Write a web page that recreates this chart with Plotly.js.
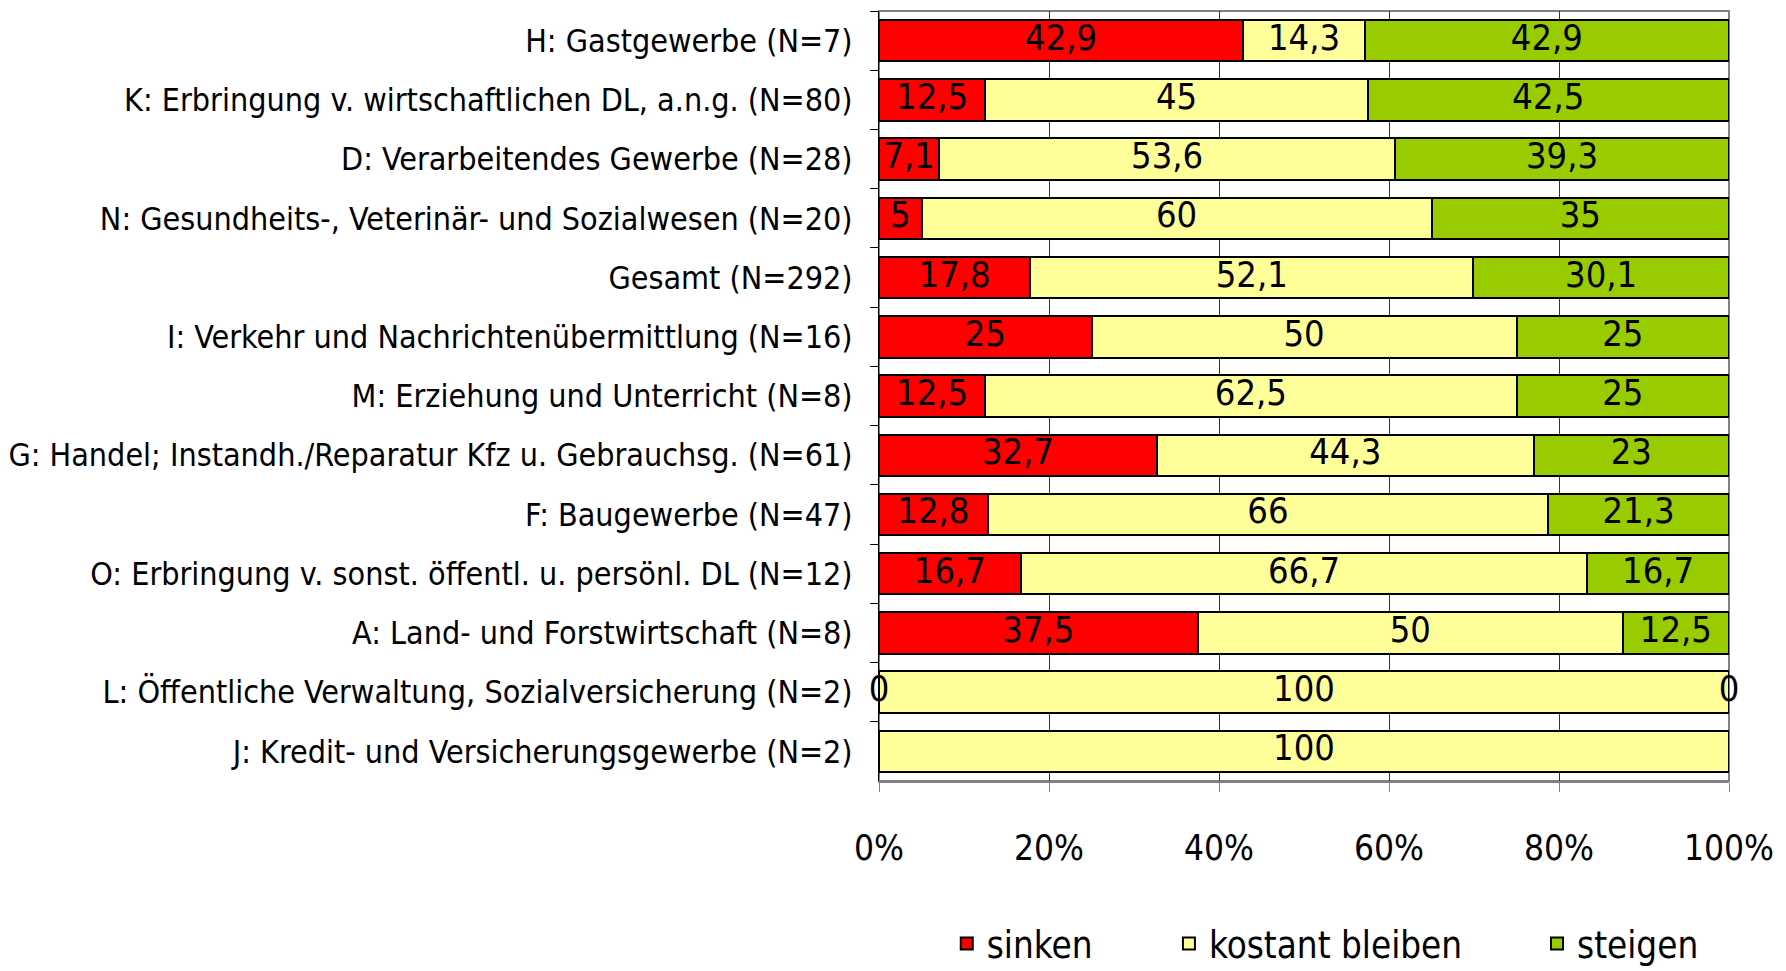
<!DOCTYPE html>
<html>
<head>
<meta charset="utf-8">
<script src="https://cdn.plot.ly/plotly-3.0.1.min.js"></script>
<style>html,body{margin:0;padding:0;background:#fff;}#chart{width:1786px;height:971px;}</style>
</head>
<body>
<div id="chart"></div>
<script>
const categories = [
  "H: Gastgewerbe (N=7)",
  "K: Erbringung v. wirtschaftlichen DL, a.n.g. (N=80)",
  "D: Verarbeitendes Gewerbe (N=28)",
  "N: Gesundheits-, Veterinär- und Sozialwesen (N=20)",
  "Gesamt (N=292)",
  "I: Verkehr und Nachrichtenübermittlung (N=16)",
  "M: Erziehung und Unterricht (N=8)",
  "G: Handel; Instandh./Reparatur Kfz u. Gebrauchsg. (N=61)",
  "F: Baugewerbe (N=47)",
  "O: Erbringung v. sonst. öffentl. u. persönl. DL (N=12)",
  "A: Land- und Forstwirtschaft (N=8)",
  "L: Öffentliche Verwaltung, Sozialversicherung (N=2)",
  "J: Kredit- und Versicherungsgewerbe (N=2)"
];
const sinken   = [42.9, 12.5, 7.1, 5, 17.8, 25, 12.5, 32.7, 12.8, 16.7, 37.5, 0, null];
const konstant = [14.3, 45, 53.6, 60, 52.1, 50, 62.5, 44.3, 66, 66.7, 50, 100, 100];
const steigen  = [42.9, 42.5, 39.3, 35, 30.1, 25, 25, 23, 21.3, 16.7, 12.5, 0, null];
const seriesNames = ["sinken", "kostant bleiben", "steigen"];
const tickVals = [0, 20, 40, 60, 80, 100];

const colors = ["#FF0000", "#FFFF99", "#99CC00"];
const FONT = "'DejaVu Sans Condensed', 'Liberation Sans Narrow', sans-serif";
const series = [sinken, konstant, steigen];
const legendIds = ["legend", "legend2", "legend3"];
const legendX = [0.5301, 0.6545, 0.8606];

const traces = series.map((vals, i) => ({
  type: "bar",
  orientation: "h",
  name: seriesNames[i],
  legend: legendIds[i],
  x: vals,
  y: categories,
  marker: {color: colors[i], line: {color: "#000", width: 2}},
  hoverinfo: "skip"
}));

// label positions computed from data (centre of each normalised segment)
const lx = [], ly = [], lt = [];
categories.forEach((c, r) => {
  const total = series.reduce((s, v) => s + (v[r] == null ? 0 : v[r]), 0);
  let cum = 0;
  series.forEach(v => {
    const val = v[r];
    if (val == null) return;
    const w = val / total * 100;
    lx.push(cum + w / 2);
    ly.push(c);
    lt.push(String(val).replace(".", ","));
    cum += w;
  });
});
traces.push({
  type: "scatter",
  mode: "text",
  x: lx, y: ly, text: lt,
  textposition: "middle center",
  textfont: {family: FONT, size: 36, color: "#000"},
  showlegend: false,
  hoverinfo: "skip",
  cliponaxis: false
});

function legendCfg(i) {
  return {
    orientation: "h",
    xref: "container", yref: "container",
    x: legendX[i], xanchor: "left",
    y: 0.028, yanchor: "middle",
    font: {family: FONT, size: 36.5, color: "#000"},
    bgcolor: "rgba(0,0,0,0)"
  };
}

const layout = {
  width: 1786, height: 971,
  margin: {l: 879, r: 57, t: 11, b: 190, autoexpand: false},
  paper_bgcolor: "#fff", plot_bgcolor: "#fff",
  barmode: "stack",
  barnorm: "percent",
  bargap: 0.3,
  font: {family: FONT, size: 32, color: "#000"},
  xaxis: {
    range: [0, 100],
    tickvals: tickVals,
    ticktext: tickVals.map(v => v + "%"),
    showgrid: true, gridcolor: "#333", gridwidth: 1,
    zeroline: false,
    showline: true, linecolor: "#808080", linewidth: 2,
    ticks: "outside", ticklen: 9, tickcolor: "#808080", tickwidth: 1,
    ticklabelstandoff: 26,
    tickfont: {family: FONT, size: 35, color: "#000"},
    fixedrange: true
  },
  yaxis: {
    type: "category",
    range: [categories.length - 0.5, -0.5],
    autorange: false,
    tickson: "boundaries",
    ticks: "outside", ticklen: 8, tickcolor: "#000", tickwidth: 1,
    showline: true, linecolor: "#000", linewidth: 1,
    showgrid: false,
    ticklabelstandoff: 19,
    tickfont: {family: FONT, size: 32, color: "#000"},
    fixedrange: true
  },
  shapes: [{
    type: "rect", xref: "paper", yref: "paper", x0: 0, x1: 1, y0: 0, y1: 1,
    line: {color: "#808080", width: 2}, layer: "below"
  }],
  legend: legendCfg(0),
  legend2: legendCfg(1),
  legend3: legendCfg(2),
  showlegend: true
};

Plotly.newPlot("chart", traces, layout, {displayModeBar: false, staticPlot: true});
</script>
</body>
</html>
